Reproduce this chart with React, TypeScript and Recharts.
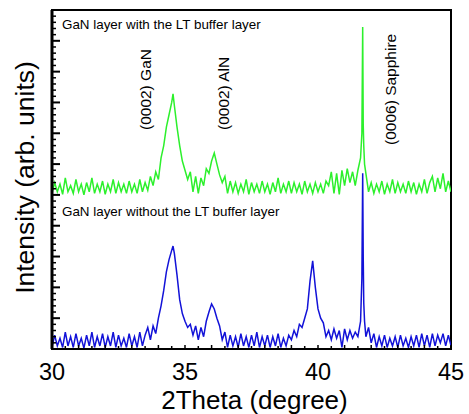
import React from 'react';
import { LineChart, Line, XAxis, YAxis, ReferenceArea, ReferenceDot } from 'recharts';

const FONT = "Arial, 'Liberation Sans', Helvetica, sans-serif";

// 2Theta sampling positions (degree)
const theta: number[] = [
  30.0, 30.1, 30.2, 30.3, 30.4, 30.5, 30.6, 30.7, 30.8, 30.9,
  31.0, 31.1, 31.2, 31.3, 31.4, 31.5, 31.6, 31.7, 31.8, 31.9,
  32.0, 32.1, 32.2, 32.3, 32.4, 32.5, 32.6, 32.7, 32.8, 32.9,
  33.0, 33.1, 33.2, 33.3, 33.4, 33.5, 33.6, 33.7, 33.8, 33.9,
  34.0, 34.1, 34.2, 34.3, 34.4, 34.5, 34.55, 34.6, 34.7, 34.8, 34.9,
  35.0, 35.1, 35.2, 35.3, 35.4, 35.5, 35.6, 35.7, 35.8, 35.9,
  36.0, 36.1, 36.2, 36.3, 36.4, 36.5, 36.6, 36.7, 36.8, 36.9,
  37.0, 37.1, 37.2, 37.3, 37.4, 37.5, 37.6, 37.7, 37.8, 37.9,
  38.0, 38.1, 38.2, 38.3, 38.4, 38.5, 38.6, 38.7, 38.8, 38.9,
  39.0, 39.1, 39.2, 39.3, 39.4, 39.5, 39.6, 39.7, 39.8, 39.9,
  40.0, 40.1, 40.2, 40.3, 40.4, 40.5, 40.6, 40.7, 40.8, 40.9,
  41.0, 41.1, 41.2, 41.3, 41.4, 41.5, 41.6, 41.65, 41.68, 41.7, 41.72, 41.75, 41.8, 41.9,
  42.0, 42.1, 42.2, 42.3, 42.4, 42.5, 42.6, 42.7, 42.8, 42.9,
  43.0, 43.1, 43.2, 43.3, 43.4, 43.5, 43.6, 43.7, 43.8, 43.9,
  44.0, 44.1, 44.2, 44.3, 44.4, 44.5, 44.6, 44.7, 44.8, 44.9,
  45.0,
];

// GaN layer with the LT buffer layer (offset trace, arb. units)
const withBuffer: number[] = [
  5.05, 5.4, 5.1, 5.35, 5.02, 5.55, 5.1, 5.3, 5.05, 5.5,
  5.1, 5.35, 5.0, 5.4, 5.1, 5.55, 5.05, 5.35, 5.1, 5.45,
  5.02, 5.35, 5.1, 5.5, 5.05, 5.4, 5.1, 5.35, 5.05, 5.45,
  5.1, 5.35, 5.05, 5.5, 5.1, 5.4, 5.15, 5.6, 5.3, 5.75,
  5.5, 6.2, 6.6, 7.2, 7.6, 8.0, 8.28, 7.9, 7.2, 6.6, 6.1,
  5.8, 5.5, 5.75, 5.1, 5.6, 5.05, 5.55, 5.3, 5.85, 5.7,
  6.1, 6.36, 6.0, 5.65, 5.4, 5.6, 5.05, 5.45, 5.1, 5.4,
  5.05, 5.35, 5.1, 5.5, 5.02, 5.4, 5.1, 5.35, 5.05, 5.45,
  5.1, 5.35, 5.02, 5.4, 5.1, 5.55, 5.05, 5.35, 5.1, 5.45,
  5.05, 5.4, 5.1, 5.35, 5.02, 5.45, 5.1, 5.35, 5.05, 5.4,
  5.1, 5.35, 5.05, 5.45, 5.3, 5.75, 5.05, 5.7, 5.02, 5.8,
  5.3, 5.85, 5.4, 5.75, 5.3, 5.8, 6.2, 7.0, 10.45, 7.3, 6.6, 6.0, 5.7, 5.1,
  5.4, 5.05, 5.35, 5.1, 5.45, 5.02, 5.35, 5.1, 5.5, 5.05,
  5.4, 5.1, 5.35, 5.05, 5.45, 5.1, 5.4, 5.02, 5.35, 5.1,
  5.5, 5.05, 5.4, 5.6, 5.1, 5.55, 5.2, 5.7, 5.1, 5.45,
  5.1,
];

// GaN layer without the LT buffer layer
const withoutBuffer: number[] = [
  0.05, 0.45, 0.1, 0.35, 0.05, 0.55, 0.1, 0.4, 0.05, 0.5,
  0.1, 0.35, 0.03, 0.45, 0.1, 0.55, 0.05, 0.4, 0.1, 0.5,
  0.05, 0.4, 0.1, 0.55, 0.05, 0.45, 0.1, 0.35, 0.05, 0.5,
  0.1, 0.4, 0.05, 0.55, 0.1, 0.45, 0.7, 0.3, 0.75, 0.5,
  1.0, 1.4, 1.9, 2.5, 2.9, 3.2, 3.34, 3.1, 2.4, 1.6, 1.15,
  0.9, 0.7, 0.8, 0.45, 0.75, 0.3, 0.7, 0.4, 0.9, 1.2,
  1.46, 1.3, 1.0, 0.75, 0.3, 0.55, 0.05, 0.45, 0.1, 0.4,
  0.05, 0.5, 0.1, 0.4, 0.05, 0.45, 0.1, 0.55, 0.05, 0.4,
  0.1, 0.45, 0.05, 0.4, 0.1, 0.5, 0.05, 0.35, 0.1, 0.45,
  0.3, 0.6, 0.4, 0.8, 0.7, 1.0, 1.3, 2.2, 2.86, 2.0,
  1.3, 1.0, 0.85, 0.4, 0.6, 0.3, 0.65, 0.35, 0.6, 0.05,
  0.65, 0.3, 0.6, 0.35, 0.55, 0.4, 0.9, 2.3, 5.7, 3.0, 1.5, 0.9, 0.4, 0.7,
  0.2, 0.5, 0.05, 0.4, 0.1, 0.45, 0.05, 0.35, 0.1, 0.4,
  0.05, 0.45, 0.1, 0.35, 0.05, 0.4, 0.1, 0.45, 0.05, 0.5,
  0.1, 0.45, 0.05, 0.5, 0.1, 0.45, 0.2, 0.5, 0.1, 0.45,
  0.1,
];

const xTickMarks: number[] = [
  30, 30.5, 31, 31.5, 32, 32.5, 33, 33.5, 34, 34.5, 35, 35.5, 36, 36.5, 37, 37.5,
  38, 38.5, 39, 39.5, 40, 40.5, 41, 41.5, 42, 42.5, 43, 43.5, 44, 44.5, 45,
];
const xTickLabels: number[] = [30, 35, 40, 45];
const yMajorTicks: number[] = [0, 1, 2, 3, 4, 5, 6, 7, 8, 9, 10, 11];
const yTickMarks: number[] = yMajorTicks.flatMap((m) =>
  m < 11 ? [m, m + 0.2, m + 0.4, m + 0.6, m + 0.8] : [m]
);

const data = theta.map((t, i) => ({ theta: t, green: withBuffer[i], blue: withoutBuffer[i] }));

const XTick = (props: any) => {
  const { x, y, payload } = props;
  const v = payload.value as number;
  const isLabel = xTickLabels.includes(v);
  return (
    <g>
      <line x1={x} x2={x} y1={y} y2={y - (Number.isInteger(v) ? 4 : 3)} stroke="#000" strokeWidth={1.5} />
      {isLabel && (
        <text x={x} y={y + 31} textAnchor="middle" fontSize={23.5} fontFamily={FONT} fill="#000">
          {v}
        </text>
      )}
    </g>
  );
};

const YTick = (props: any) => {
  const { x, y, payload } = props;
  const v = payload.value as number;
  const major = Math.abs(v - Math.round(v)) < 1e-6;
  return <line x1={x} x2={x + (major ? 8 : 4)} y1={y} y2={y} stroke="#000" strokeWidth={major ? 2 : 1.5} />;
};

const Anno = (props: any) => {
  const { viewBox, annoText, rotate, size } = props;
  const x = viewBox.x + (viewBox.width || 0) / 2;
  const y = viewBox.y + (viewBox.height || 0) / 2;
  return (
    <text
      x={x}
      y={y}
      transform={rotate ? `rotate(-90 ${x} ${y})` : undefined}
      fontSize={size}
      fontFamily={FONT}
      fill="#000"
      textAnchor="start"
    >
      {annoText}
    </text>
  );
};

const YTitle = (props: any) => {
  const { viewBox } = props;
  const x = viewBox.x + 34;
  const y = viewBox.y + viewBox.height / 2 - 2;
  return (
    <text x={x} y={y} transform={`rotate(-90 ${x} ${y})`} textAnchor="middle" fontSize={26.5} fontFamily={FONT} fill="#000">
      Intensity (arb. units)
    </text>
  );
};

const XTitle = (props: any) => {
  const { viewBox } = props;
  const x = viewBox.x + viewBox.width / 2 + 3;
  const y = viewBox.y + 60;
  return (
    <text x={x} y={y} textAnchor="middle" fontSize={26} fontFamily={FONT} fill="#000">
      2Theta (degree)
    </text>
  );
};

export default function App() {
  return (
    <div style={{ position: 'absolute', left: 0, top: 0, width: 469, height: 414, background: '#fff' }}>
      <LineChart width={469} height={414} data={data} margin={{ top: 10, right: 18, bottom: 0, left: 0 }}>
        <XAxis
          dataKey="theta"
          type="number"
          domain={[30, 45]}
          ticks={xTickMarks}
          interval={0}
          tickSize={0}
          tickMargin={0}
          tickLine={false}
          tick={<XTick />}
          height={65}
          axisLine={{ stroke: '#000', strokeWidth: 2 }}
          allowDataOverflow
          label={<XTitle />}
        />
        <YAxis
          type="number"
          domain={[0, 11]}
          ticks={yTickMarks}
          interval={0}
          tickSize={0}
          tickMargin={0}
          tickLine={false}
          tick={<YTick />}
          width={52}
          axisLine={{ stroke: '#000', strokeWidth: 3 }}
          allowDataOverflow
          label={<YTitle />}
        />
        <Line type="linear" dataKey="green" stroke="#2cf02c" strokeWidth={1.5} dot={false} isAnimationActive={false} />
        <Line type="linear" dataKey="blue" stroke="#1212d8" strokeWidth={1.5} dot={false} isAnimationActive={false} />
        <ReferenceArea x1={30} x2={45} y1={0} y2={11} fill="none" stroke="#000" strokeWidth={2} fillOpacity={0} />
        <ReferenceDot x={30.376} y={10.38} r={0} fill="none" stroke="none" label={<Anno annoText="GaN layer with the LT buffer layer" size={13.4} />} />
        <ReferenceDot x={30.376} y={4.316} r={0} fill="none" stroke="none" label={<Anno annoText="GaN layer without the LT buffer layer" size={13.4} />} />
        <ReferenceDot x={33.72} y={7.106} r={0} fill="none" stroke="none" label={<Anno annoText="(0002) GaN" rotate size={15.5} />} />
        <ReferenceDot x={36.65} y={7.106} r={0} fill="none" stroke="none" label={<Anno annoText="(0002) AlN" rotate size={15.5} />} />
        <ReferenceDot x={42.93} y={6.62} r={0} fill="none" stroke="none" label={<Anno annoText="(0006) Sapphire" rotate size={15.5} />} />
      </LineChart>
    </div>
  );
}
